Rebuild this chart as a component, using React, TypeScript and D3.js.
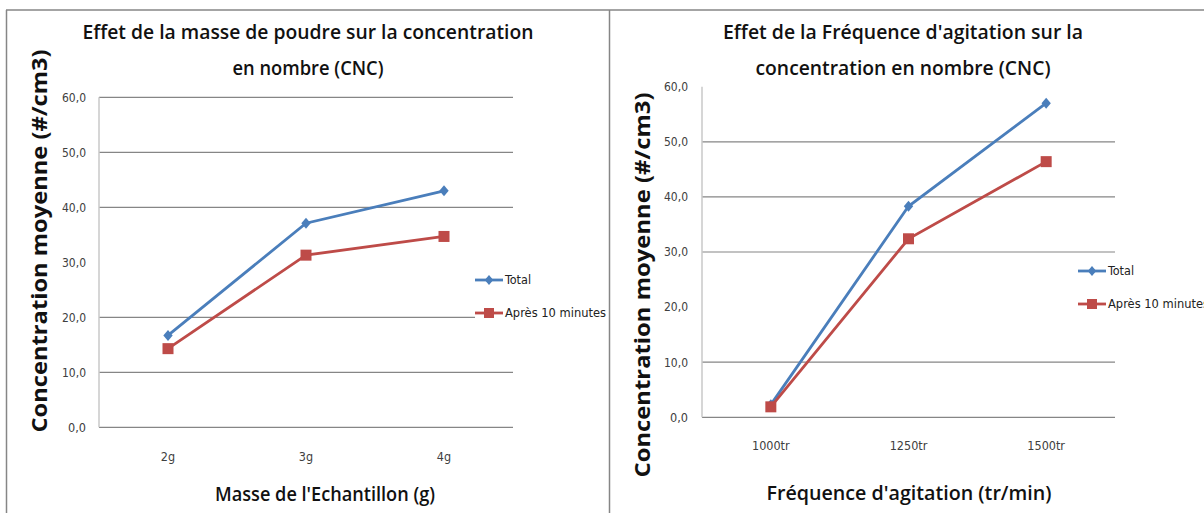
import React from "react";
import * as d3 from "d3";

// ---- Data ----
const massCategories = ["2g", "3g", "4g"];
const massTotal = [16.7, 37.1, 43.0];
const massAfter10 = [14.3, 31.3, 34.7];

const freqCategories = ["1000tr", "1250tr", "1500tr"];
const freqTotal = [2.3, 38.3, 57.0];
const freqAfter10 = [1.9, 32.4, 46.4];

const yTickValues = [0, 10, 20, 30, 40, 50, 60];
// gridlines visible in the reference (some are absent there)
const massGridValues = [0, 10, 20, 40, 50, 60];
const freqGridValues = [0, 10, 30, 40, 50];

const seriesNames = ["Total", "Après 10 minutes"];
const leftTitle = ["Effet de la masse de poudre sur la concentration", "en nombre (CNC)"];
const rightTitle = ["Effet de la Fréquence d'agitation sur la", "concentration en nombre (CNC)"];
const yTitle = "Concentration moyenne (#/cm3)";
const leftXTitle = "Masse de l'Echantillon (g)";
const rightXTitle = "Fréquence d'agitation (tr/min)";

const BLUE = "#4A7EBB";
const RED = "#BE4B48";
const GRID = "#868686";
const TITLE_FONT = "'Open Sans', 'Liberation Sans', sans-serif";
const TICK_FONT = "'Liberation Sans Narrow', 'DejaVu Sans Condensed', 'Liberation Sans', sans-serif";

const fmt = (v: number) => v.toFixed(1).replace(".", ",");

type ChartProps = {
  cats: string[];
  total: number[];
  after: number[];
  grid: number[];
  plot: { x0: number; x1: number; yTop: number; yBottom: number };
  title: string[];
  titleX: number;
  titleY: number[];
  titleLen: number[];
  yLabelX: number;
  yLabelCenter: number;
  yLabelLen: number;
  tickRight: number;
  xTickY: number;
  xTitle: string;
  xTitleX: number;
  xTitleY: number;
  xTitleLen: number;
  legend: { x: number; y: number; w: number; h: number; lineX: number; rowY: number[] };
  legendTextLen: number[];
};

function Diamond({ x, y, r, fill }: { x: number; y: number; r: number; fill: string }) {
  return <path d={`M${x},${y - r}L${x + r * 0.85},${y}L${x},${y + r}L${x - r * 0.85},${y}Z`} fill={fill} />;
}

function Chart(p: ChartProps) {
  const x = d3.scaleBand<string>().domain(p.cats).range([p.plot.x0, p.plot.x1]);
  const y = d3.scaleLinear().domain([0, 60]).range([p.plot.yBottom, p.plot.yTop]);
  const cx = (c: string) => (x(c) as number) + x.bandwidth() / 2;
  const line = d3
    .line<number>()
    .x((_, i) => cx(p.cats[i]))
    .y((d) => y(d));
  return (
    <g>
      {p.grid.map((v) => (
        <line key={v} x1={p.plot.x0} x2={p.plot.x1} y1={y(v)} y2={y(v)} stroke={GRID} strokeWidth={1.2} />
      ))}
      <line x1={p.plot.x0} x2={p.plot.x0} y1={y(60)} y2={y(0)} stroke="#c8c8c8" strokeWidth={1.5} />
      {yTickValues.map((v) => (
        <text
          key={v}
          x={p.tickRight}
          y={y(v)}
          dy="0.35em"
          textAnchor="end"
          fontFamily={TICK_FONT}
          fontSize={12.5}
          fill="#404040"
          textLength={v >= 10 ? 24 : 18}
          lengthAdjust="spacingAndGlyphs"
        >
          {fmt(v)}
        </text>
      ))}
      {p.cats.map((c) => (
        <text
          key={c}
          x={cx(c)}
          y={p.xTickY}
          dy="0.35em"
          textAnchor="middle"
          fontFamily={TICK_FONT}
          fontSize={12.5}
          fill="#404040"
        >
          {c}
        </text>
      ))}
      <path d={line(p.total) || ""} fill="none" stroke={BLUE} strokeWidth={2.8} />
      <path d={line(p.after) || ""} fill="none" stroke={RED} strokeWidth={2.8} />
      {p.total.map((v, i) => (
        <Diamond key={"t" + i} x={cx(p.cats[i])} y={y(v)} r={5.5} fill={BLUE} />
      ))}
      {p.after.map((v, i) => (
        <rect key={"a" + i} x={cx(p.cats[i]) - 5.5} y={y(v) - 5.5} width={11} height={11} fill={RED} />
      ))}
      {p.title.map((t, i) => (
        <text
          key={i}
          x={p.titleX}
          y={p.titleY[i]}
          textAnchor="middle"
          fontFamily={TITLE_FONT}
          fontWeight={600}
          fontSize={20}
          fill="#111"
          textLength={p.titleLen[i]}
          lengthAdjust="spacingAndGlyphs"
        >
          {t}
        </text>
      ))}
      <text
        transform={`translate(${p.yLabelX},${p.yLabelCenter}) rotate(-90)`}
        textAnchor="middle"
        dy="0.35em"
        fontFamily={TITLE_FONT}
        fontWeight={700}
        fontSize={22}
        fill="#111"
        textLength={p.yLabelLen}
        lengthAdjust="spacingAndGlyphs"
      >
        {yTitle}
      </text>
      <text
        x={p.xTitleX}
        y={p.xTitleY}
        textAnchor="middle"
        fontFamily={TITLE_FONT}
        fontWeight={600}
        fontSize={20}
        fill="#111"
        textLength={p.xTitleLen}
        lengthAdjust="spacingAndGlyphs"
      >
        {p.xTitle}
      </text>
      <rect x={p.legend.x} y={p.legend.y} width={p.legend.w} height={p.legend.h} fill="#fff" />
      {seriesNames.map((s, i) => {
        const ly = p.legend.rowY[i];
        const lx = p.legend.lineX;
        const col = i === 0 ? BLUE : RED;
        return (
          <g key={s}>
            <line x1={lx} x2={lx + 28} y1={ly} y2={ly} stroke={col} strokeWidth={2.8} />
            {i === 0 ? (
              <Diamond x={lx + 14} y={ly} r={5} fill={col} />
            ) : (
              <rect x={lx + 9} y={ly - 5} width={10} height={10} fill={col} />
            )}
            <text
              x={lx + 30}
              y={ly}
              dy="0.35em"
              fontFamily={TICK_FONT}
              fontSize={12.5}
              fill="#222"
              textLength={p.legendTextLen[i]}
              lengthAdjust="spacingAndGlyphs"
            >
              {s}
            </text>
          </g>
        );
      })}
    </g>
  );
}

export default function App() {
  const W = 1204;
  const H = 513;
  return (
    <svg
      width={W}
      height={H}
      style={{ position: "absolute", left: 0, top: 0, background: "#fff" }}
    >
      <rect x={0} y={0} width={W} height={H} fill="#fff" />
      <Chart
        cats={massCategories}
        total={massTotal}
        after={massAfter10}
        grid={massGridValues}
        plot={{ x0: 99, x1: 513, yTop: 97.3, yBottom: 427.3 }}
        title={leftTitle}
        titleX={308}
        titleY={[39, 75]}
        titleLen={[451, 151]}
        yLabelX={39}
        yLabelCenter={241}
        yLabelLen={383}
        tickRight={86}
        xTickY={457}
        xTitle={leftXTitle}
        xTitleX={325}
        xTitleY={501}
        xTitleLen={220}
        legend={{ x: 475, y: 264, w: 133, h: 66, lineX: 475, rowY: [280, 313] }}
        legendTextLen={[26, 101]}
      />
      <Chart
        cats={freqCategories}
        total={freqTotal}
        after={freqAfter10}
        grid={freqGridValues}
        plot={{ x0: 702, x1: 1115, yTop: 86.7, yBottom: 417.3 }}
        title={rightTitle}
        titleX={903}
        titleY={[39, 75]}
        titleLen={[360, 295]}
        yLabelX={642}
        yLabelCenter={285}
        yLabelLen={385}
        tickRight={688}
        xTickY={446}
        xTitle={rightXTitle}
        xTitleX={909}
        xTitleY={500}
        xTitleLen={285}
        legend={{ x: 1076, y: 258, w: 130, h: 64, lineX: 1078, rowY: [271, 304] }}
        legendTextLen={[26, 101]}
      />
      <line x1={6} x2={W} y1={10} y2={10} stroke={GRID} strokeWidth={1.5} />
      <line x1={6.5} x2={6.5} y1={10} y2={H} stroke={GRID} strokeWidth={1.5} />
      <line x1={609.5} x2={609.5} y1={10} y2={H} stroke={GRID} strokeWidth={1.5} />
    </svg>
  );
}
